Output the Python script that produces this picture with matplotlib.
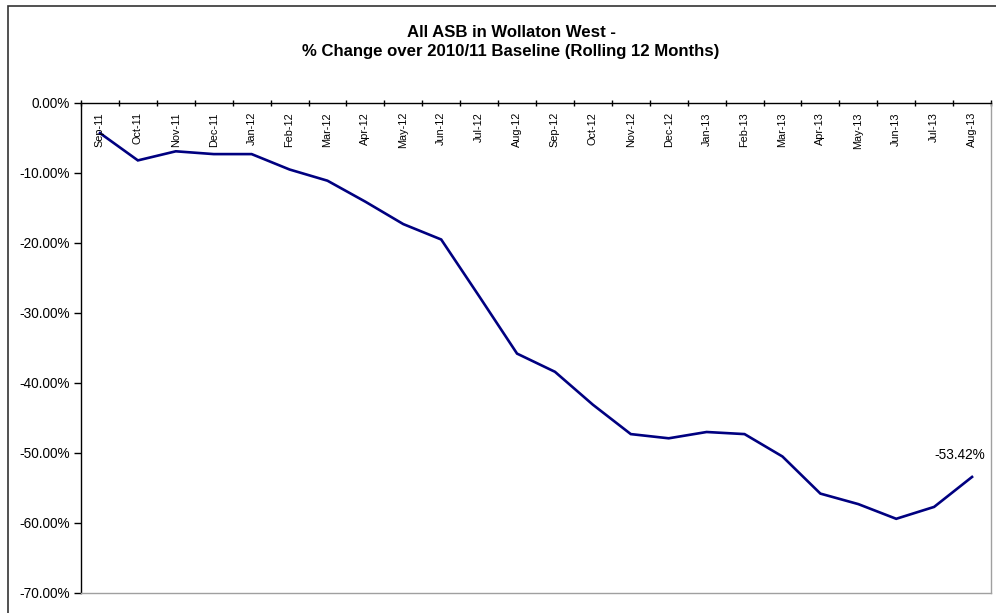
import matplotlib
matplotlib.use('Agg')
import matplotlib.pyplot as plt
from matplotlib.patches import Rectangle
from matplotlib.ticker import FuncFormatter, FixedLocator

plt.rcParams['font.family'] = ['Liberation Sans', 'DejaVu Sans']

months = ['Sep-11', 'Oct-11', 'Nov-11', 'Dec-11', 'Jan-12', 'Feb-12', 'Mar-12', 'Apr-12',
          'May-12', 'Jun-12', 'Jul-12', 'Aug-12', 'Sep-12', 'Oct-12', 'Nov-12', 'Dec-12',
          'Jan-13', 'Feb-13', 'Mar-13', 'Apr-13', 'May-13', 'Jun-13', 'Jul-13', 'Aug-13']
pct_change = [-4.3, -8.2, -6.9, -7.3, -7.3, -9.5, -11.1, -14.1,
              -17.3, -19.5, -27.6, -35.8, -38.4, -43.1, -47.3, -47.9,
              -47.0, -47.3, -50.5, -55.8, -57.3, -59.4, -57.7, -53.42]
last_label = '-53.42%'

W, H = 996, 613
fig = plt.figure(figsize=(W / 100, H / 100), dpi=100)
fig.patches.append(Rectangle((8 / W, -0.05), 1.2, 1 - 6 / H + 0.05, transform=fig.transFigure,
                             fill=False, edgecolor='#333333', linewidth=1.2))

ax = fig.add_axes([81 / W, 1 - 593 / H, 910 / W, 490 / H])
x = list(range(len(months)))
ax.plot(x, pct_change, color='#000080', linewidth=1.9, solid_joinstyle='miter')

ax.set_xlim(-0.5, len(months) - 0.5)
ax.set_ylim(-70, 0)
ax.set_yticks([0, -10, -20, -30, -40, -50, -60, -70])
ax.yaxis.set_major_formatter(FuncFormatter(lambda v, p: '%.2f%%' % v))
ax.tick_params(axis='y', direction='out', length=5, width=1, labelsize=9.8, pad=3, color='black')

# category axis sits at 0 (top), ticks between categories
ax.xaxis.tick_top()
ax.xaxis.set_major_locator(FixedLocator([i - 0.5 for i in range(len(months) + 1)]))
ax.set_xticklabels([])
ax.tick_params(axis='x', direction='inout', length=5, width=1, color='black')
for i, m in enumerate(months):
    ax.text(i, -1.3, m, rotation=90, ha='center', va='top', fontsize=7.8)

ax.spines['top'].set_color('black')
ax.spines['left'].set_color('black')
ax.spines['right'].set_color('#a0a0a0')
ax.spines['bottom'].set_color('#a0a0a0')
for s in ax.spines.values():
    s.set_linewidth(1)

ax.annotate(last_label, (x[-1], pct_change[-1]), xytext=(-9, 11), textcoords='offset points',
            ha='center', va='bottom', fontsize=9.8)

fig.text(511 / W, 1 - 42 / H, 'All ASB in Wollaton West -\n% Change over 2010/11 Baseline (Rolling 12 Months)',
         ha='center', va='center', fontsize=12.1, fontweight='bold', linespacing=1.3)

fig.savefig('out.png', dpi=100)
